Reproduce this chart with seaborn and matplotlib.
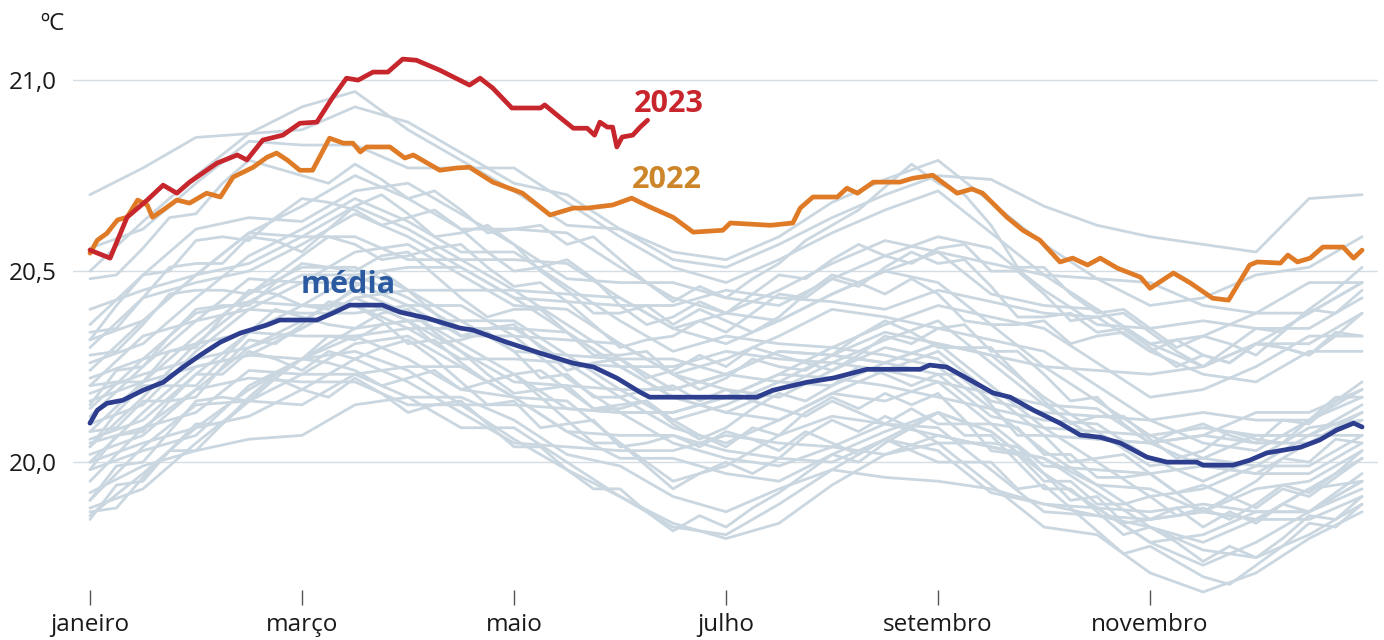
import pandas as pd
import numpy as np
import seaborn as sns
import matplotlib.pyplot as plt

# eixo x em meses (0 = 1 de janeiro, 12 = 31 de dezembro)
meses_2023 = [0.0, 0.19, 0.35, 0.54, 0.69, 0.82, 0.94, 1.20, 1.39, 1.48, 1.63, 1.82, 1.98, 2.14,
              2.29, 2.42, 2.53, 2.67, 2.81, 2.95, 3.08, 3.30, 3.58, 3.68, 3.80, 3.98, 4.25, 4.29,
              4.43, 4.56, 4.69, 4.76, 4.81, 4.88, 4.93, 4.97, 5.02, 5.12, 5.19, 5.26]
temp_2023 = [20.555, 20.534, 20.641, 20.686, 20.725, 20.704, 20.733, 20.783, 20.804, 20.791,
             20.843, 20.856, 20.887, 20.890, 20.955, 21.005, 21.000, 21.021, 21.021, 21.055,
             21.052, 21.026, 20.987, 21.005, 20.979, 20.927, 20.927, 20.935, 20.903, 20.874,
             20.874, 20.856, 20.890, 20.877, 20.877, 20.825, 20.851, 20.856, 20.877, 20.895]

meses_2022 = [0.0, 0.07, 0.16, 0.26, 0.35, 0.45, 0.54, 0.59, 0.69, 0.82, 0.94, 1.10, 1.23, 1.35,
              1.54, 1.67, 1.76, 1.86, 1.98, 2.10, 2.26, 2.39, 2.48, 2.55, 2.61, 2.83, 2.97, 3.05,
              3.30, 3.46, 3.58, 3.80, 4.08, 4.34, 4.56, 4.69, 4.93, 5.11, 5.28, 5.50, 5.69, 5.97,
              6.04, 6.42, 6.63, 6.70, 6.82, 7.05, 7.14, 7.24, 7.39, 7.64, 7.76, 7.95, 8.18, 8.32,
              8.42, 8.65, 8.80, 8.96, 9.15, 9.27, 9.41, 9.53, 9.69, 9.91, 10.00, 10.22, 10.38,
              10.59, 10.74, 10.94, 11.01, 11.23, 11.30, 11.39, 11.51, 11.63, 11.82, 11.92, 12.0]
temp_2022 = [20.547, 20.581, 20.599, 20.634, 20.641, 20.686, 20.673, 20.641, 20.660, 20.686,
             20.678, 20.704, 20.694, 20.746, 20.772, 20.798, 20.809, 20.791, 20.764, 20.764,
             20.848, 20.835, 20.835, 20.812, 20.825, 20.825, 20.796, 20.804, 20.764, 20.770,
             20.772, 20.733, 20.704, 20.647, 20.665, 20.665, 20.673, 20.691, 20.668, 20.641,
             20.602, 20.607, 20.626, 20.620, 20.626, 20.665, 20.694, 20.694, 20.717, 20.704,
             20.733, 20.733, 20.743, 20.751, 20.704, 20.715, 20.704, 20.641, 20.607, 20.581,
             20.524, 20.534, 20.516, 20.534, 20.508, 20.484, 20.455, 20.495, 20.469, 20.429,
             20.424, 20.516, 20.524, 20.521, 20.542, 20.524, 20.534, 20.563, 20.563, 20.534, 20.555]

meses_media = [0.0, 0.07, 0.16, 0.31, 0.50, 0.69, 0.88, 1.04, 1.23, 1.42, 1.67, 1.79, 2.14, 2.29,
               2.45, 2.76, 2.92, 3.18, 3.49, 3.61, 3.93, 4.25, 4.56, 4.75, 4.97, 5.19, 5.28, 6.29,
               6.44, 6.76, 7.01, 7.33, 7.83, 7.92, 8.08, 8.27, 8.52, 8.68, 8.90, 9.15, 9.34, 9.53,
               9.72, 9.97, 10.16, 10.44, 10.50, 10.78, 10.94, 11.10, 11.42, 11.60, 11.76, 11.92, 12.0]
temp_media = [20.102, 20.136, 20.154, 20.162, 20.188, 20.209, 20.249, 20.280, 20.314, 20.338,
              20.359, 20.372, 20.372, 20.390, 20.411, 20.411, 20.393, 20.377, 20.351, 20.346,
              20.314, 20.285, 20.259, 20.249, 20.220, 20.183, 20.170, 20.170, 20.188, 20.209,
              20.220, 20.243, 20.243, 20.254, 20.249, 20.220, 20.181, 20.170, 20.136, 20.102,
              20.071, 20.065, 20.050, 20.013, 20.000, 20.000, 19.992, 19.992, 20.005, 20.024,
              20.039, 20.058, 20.084, 20.102, 20.092]

# anos anteriores (linhas cinzentas), valores a cada meio mes
meses_cinza = [0, 0.5, 1, 1.5, 2, 2.5, 3, 3.5, 4, 4.5, 5, 5.5, 6, 6.5, 7, 7.5, 8, 8.5, 9, 9.5,
               10, 10.5, 11, 11.5, 12]
anos_cinza = [
    [19.86, 19.97, 20.09, 20.19, 20.27, 20.29, 20.24, 20.15, 20.06, 19.98, 19.91, 19.84, 19.80, 19.84, 19.94, 20.02, 20.05, 19.94, 19.83, 19.81, 19.71, 19.66, 19.71, 19.80, 19.87],
    [19.92, 19.99, 20.03, 20.06, 20.07, 20.15, 20.17, 20.17, 20.11, 20.02, 19.99, 19.91, 19.87, 19.93, 19.98, 19.96, 19.95, 19.93, 19.89, 19.86, 19.83, 19.77, 19.75, 19.81, 19.89],
    [19.98, 20.03, 20.07, 20.20, 20.27, 20.33, 20.27, 20.19, 20.17, 20.16, 20.05, 19.95, 19.99, 20.07, 20.12, 20.10, 20.07, 20.04, 20.01, 19.92, 19.83, 19.79, 19.85, 19.93, 19.95],
    [19.90, 20.04, 20.15, 20.16, 20.15, 20.23, 20.25, 20.25, 20.17, 20.08, 20.01, 20.01, 19.97, 19.95, 20.02, 20.08, 20.13, 20.08, 19.97, 19.88, 19.79, 19.81, 19.87, 19.87, 19.93],
    [19.95, 20.09, 20.19, 20.22, 20.21, 20.21, 20.15, 20.15, 20.15, 20.14, 20.13, 20.05, 20.01, 19.99, 20.04, 20.10, 20.09, 19.98, 19.87, 19.86, 19.85, 19.87, 19.85, 19.85, 19.91],
    [20.00, 20.05, 20.09, 20.12, 20.19, 20.27, 20.21, 20.13, 20.05, 20.04, 20.03, 20.03, 20.07, 20.05, 20.04, 20.02, 20.07, 20.04, 20.01, 19.94, 19.85, 19.87, 19.93, 19.95, 20.03],
    [20.05, 20.09, 20.13, 20.24, 20.23, 20.23, 20.17, 20.09, 20.09, 20.00, 19.91, 19.83, 19.81, 19.89, 19.98, 20.06, 20.13, 20.08, 19.97, 19.88, 19.87, 19.89, 19.87, 19.87, 19.95],
    [19.88, 19.93, 20.05, 20.16, 20.23, 20.31, 20.33, 20.25, 20.17, 20.08, 20.07, 20.07, 20.03, 20.01, 20.00, 20.06, 20.03, 19.92, 19.89, 19.88, 19.79, 19.73, 19.79, 19.87, 19.95],
    [20.10, 20.15, 20.29, 20.40, 20.39, 20.39, 20.41, 20.41, 20.33, 20.22, 20.13, 20.13, 20.17, 20.23, 20.22, 20.20, 20.17, 20.14, 20.11, 20.10, 20.01, 19.95, 20.01, 20.09, 20.11],
    [20.18, 20.23, 20.27, 20.30, 20.35, 20.43, 20.45, 20.37, 20.29, 20.28, 20.27, 20.27, 20.23, 20.21, 20.20, 20.26, 20.31, 20.28, 20.17, 20.08, 19.99, 20.01, 20.07, 20.07, 20.13],
    [20.04, 20.17, 20.31, 20.42, 20.49, 20.49, 20.43, 20.35, 20.35, 20.34, 20.25, 20.17, 20.13, 20.19, 20.26, 20.24, 20.21, 20.10, 19.99, 19.98, 19.97, 19.99, 19.97, 19.97, 20.05],
    [20.14, 20.27, 20.39, 20.42, 20.41, 20.41, 20.35, 20.27, 20.27, 20.26, 20.25, 20.25, 20.29, 20.27, 20.26, 20.32, 20.37, 20.26, 20.15, 20.06, 20.05, 20.07, 20.05, 20.05, 20.11],
    [20.00, 20.13, 20.25, 20.28, 20.27, 20.35, 20.37, 20.37, 20.37, 20.28, 20.19, 20.11, 20.15, 20.21, 20.28, 20.34, 20.31, 20.20, 20.09, 20.00, 19.91, 19.93, 19.99, 20.07, 20.07],
    [20.22, 20.27, 20.31, 20.34, 20.41, 20.49, 20.51, 20.51, 20.43, 20.34, 20.25, 20.17, 20.13, 20.11, 20.18, 20.24, 20.29, 20.18, 20.07, 20.06, 20.05, 20.07, 20.13, 20.13, 20.19],
    [20.08, 20.21, 20.25, 20.28, 20.35, 20.43, 20.37, 20.29, 20.21, 20.20, 20.19, 20.19, 20.23, 20.29, 20.28, 20.26, 20.23, 20.12, 20.09, 20.08, 20.07, 20.01, 19.99, 19.99, 20.07],
    [20.16, 20.21, 20.33, 20.44, 20.51, 20.51, 20.45, 20.45, 20.45, 20.36, 20.27, 20.19, 20.23, 20.29, 20.28, 20.26, 20.31, 20.28, 20.25, 20.16, 20.07, 20.09, 20.07, 20.07, 20.15],
    [20.06, 20.11, 20.23, 20.34, 20.33, 20.33, 20.35, 20.35, 20.35, 20.26, 20.17, 20.09, 20.05, 20.11, 20.18, 20.16, 20.21, 20.18, 20.15, 20.14, 20.05, 19.99, 19.97, 20.05, 20.13],
    [20.20, 20.33, 20.37, 20.40, 20.47, 20.47, 20.41, 20.33, 20.33, 20.32, 20.31, 20.23, 20.19, 20.17, 20.24, 20.30, 20.27, 20.16, 20.13, 20.12, 20.11, 20.13, 20.11, 20.11, 20.17],
    [20.02, 20.07, 20.19, 20.30, 20.37, 20.45, 20.39, 20.31, 20.23, 20.14, 20.13, 20.13, 20.17, 20.23, 20.30, 20.28, 20.25, 20.14, 20.03, 19.94, 19.93, 19.87, 19.85, 19.93, 20.01],
    [20.12, 20.25, 20.37, 20.48, 20.47, 20.55, 20.57, 20.49, 20.41, 20.40, 20.31, 20.23, 20.27, 20.33, 20.40, 20.38, 20.35, 20.32, 20.29, 20.20, 20.11, 20.05, 20.03, 20.11, 20.19],
    [20.30, 20.43, 20.47, 20.50, 20.57, 20.65, 20.59, 20.51, 20.43, 20.42, 20.41, 20.41, 20.45, 20.43, 20.42, 20.40, 20.45, 20.42, 20.39, 20.38, 20.29, 20.23, 20.21, 20.29, 20.29],
    [20.26, 20.31, 20.43, 20.54, 20.61, 20.69, 20.63, 20.55, 20.55, 20.46, 20.37, 20.29, 20.33, 20.31, 20.30, 20.36, 20.41, 20.38, 20.35, 20.26, 20.17, 20.19, 20.25, 20.33, 20.33],
    [20.36, 20.49, 20.61, 20.64, 20.63, 20.71, 20.73, 20.65, 20.57, 20.48, 20.47, 20.47, 20.43, 20.41, 20.48, 20.54, 20.59, 20.56, 20.45, 20.36, 20.35, 20.37, 20.35, 20.35, 20.43],
    [20.32, 20.37, 20.49, 20.60, 20.67, 20.75, 20.69, 20.61, 20.61, 20.60, 20.51, 20.43, 20.39, 20.37, 20.44, 20.50, 20.47, 20.36, 20.25, 20.24, 20.23, 20.25, 20.31, 20.39, 20.47],
    [20.40, 20.45, 20.49, 20.52, 20.59, 20.67, 20.61, 20.53, 20.45, 20.44, 20.43, 20.35, 20.31, 20.37, 20.44, 20.50, 20.55, 20.44, 20.41, 20.40, 20.31, 20.25, 20.31, 20.31, 20.39],
    [20.24, 20.37, 20.49, 20.60, 20.59, 20.59, 20.53, 20.53, 20.53, 20.52, 20.43, 20.35, 20.39, 20.45, 20.52, 20.58, 20.55, 20.52, 20.49, 20.40, 20.31, 20.33, 20.39, 20.47, 20.47],
    [20.70, 20.77, 20.85, 20.86, 20.87, 20.93, 20.89, 20.81, 20.73, 20.70, 20.61, 20.55, 20.53, 20.59, 20.68, 20.74, 20.79, 20.68, 20.57, 20.48, 20.41, 20.43, 20.49, 20.51, 20.59],
    [20.50, 20.63, 20.75, 20.86, 20.93, 20.97, 20.87, 20.79, 20.71, 20.62, 20.61, 20.53, 20.51, 20.57, 20.64, 20.70, 20.75, 20.74, 20.67, 20.62, 20.59, 20.57, 20.55, 20.69, 20.70],
    [20.56, 20.61, 20.73, 20.84, 20.83, 20.83, 20.77, 20.77, 20.77, 20.68, 20.59, 20.51, 20.47, 20.53, 20.60, 20.66, 20.71, 20.60, 20.49, 20.48, 20.47, 20.41, 20.39, 20.39, 20.47],
]

# mais anos, valores a cada quarto de mes
meses_cinza_q = [0, 0.25, 0.5, 0.75, 1, 1.25, 1.5, 1.75, 2, 2.25, 2.5, 2.75, 3, 3.25, 3.5, 3.75,
                 4, 4.25, 4.5, 4.75, 5, 5.25, 5.5, 5.75, 6, 6.25, 6.5, 6.75, 7, 7.25, 7.5, 7.75,
                 8, 8.25, 8.5, 8.75, 9, 9.25, 9.5, 9.75, 10, 10.25, 10.5, 10.75, 11, 11.25, 11.5,
                 11.75, 12]
anos_cinza_q = [
    [20.15, 20.24, 20.25, 20.33, 20.40, 20.41, 20.41, 20.47, 20.52, 20.51, 20.50, 20.54, 20.55, 20.49, 20.43, 20.38, 20.40, 20.40, 20.34, 20.28, 20.28, 20.29, 20.23, 20.19, 20.22, 20.27, 20.25, 20.24, 20.28, 20.33, 20.37, 20.34, 20.30, 20.30, 20.30, 20.23, 20.16, 20.10, 20.12, 20.12, 20.06, 20.01, 20.03, 20.08, 20.06, 20.05, 20.11, 20.17, 20.17],
    [19.90, 19.99, 20.00, 20.08, 20.16, 20.17, 20.16, 20.22, 20.27, 20.26, 20.24, 20.20, 20.22, 20.24, 20.19, 20.21, 20.23, 20.17, 20.11, 20.05, 20.05, 19.99, 19.93, 19.97, 20.00, 19.97, 20.01, 20.07, 20.11, 20.08, 20.12, 20.09, 20.05, 20.05, 20.05, 20.04, 19.97, 19.90, 19.91, 19.84, 19.85, 19.88, 19.83, 19.87, 19.84, 19.89, 19.87, 19.92, 19.97],
    [20.32, 20.41, 20.49, 20.50, 20.58, 20.59, 20.58, 20.64, 20.69, 20.68, 20.66, 20.62, 20.64, 20.66, 20.61, 20.55, 20.50, 20.51, 20.53, 20.48, 20.41, 20.36, 20.38, 20.42, 20.39, 20.44, 20.49, 20.48, 20.53, 20.57, 20.54, 20.52, 20.56, 20.57, 20.50, 20.50, 20.44, 20.37, 20.38, 20.39, 20.34, 20.29, 20.25, 20.30, 20.35, 20.34, 20.40, 20.39, 20.45],
    [20.08, 20.09, 20.16, 20.16, 20.17, 20.25, 20.32, 20.31, 20.36, 20.42, 20.41, 20.37, 20.31, 20.32, 20.26, 20.21, 20.23, 20.24, 20.19, 20.14, 20.15, 20.16, 20.10, 20.06, 20.09, 20.14, 20.18, 20.16, 20.20, 20.25, 20.23, 20.20, 20.23, 20.23, 20.15, 20.07, 20.07, 20.00, 20.01, 20.02, 19.97, 19.92, 19.94, 19.91, 19.95, 20.01, 20.00, 20.06, 20.05],
    [19.85, 19.94, 19.95, 20.03, 20.10, 20.10, 20.16, 20.22, 20.19, 20.17, 20.22, 20.18, 20.13, 20.15, 20.16, 20.10, 20.04, 20.04, 19.98, 19.93, 19.93, 19.87, 19.82, 19.86, 19.83, 19.88, 19.92, 19.97, 20.02, 20.00, 20.05, 20.09, 20.13, 20.07, 20.07, 20.00, 19.93, 19.93, 19.87, 19.81, 19.83, 19.79, 19.74, 19.78, 19.75, 19.80, 19.86, 19.85, 19.91],
    [20.28, 20.29, 20.36, 20.44, 20.45, 20.45, 20.44, 20.49, 20.54, 20.59, 20.57, 20.53, 20.54, 20.56, 20.57, 20.51, 20.46, 20.47, 20.42, 20.36, 20.30, 20.32, 20.33, 20.37, 20.34, 20.39, 20.44, 20.43, 20.48, 20.46, 20.51, 20.55, 20.52, 20.53, 20.46, 20.38, 20.38, 20.39, 20.34, 20.35, 20.30, 20.25, 20.28, 20.26, 20.31, 20.30, 20.28, 20.33, 20.39],
    [20.04, 20.13, 20.20, 20.20, 20.20, 20.27, 20.34, 20.40, 20.38, 20.36, 20.35, 20.39, 20.40, 20.34, 20.29, 20.23, 20.18, 20.19, 20.20, 20.14, 20.14, 20.16, 20.11, 20.07, 20.04, 20.09, 20.07, 20.13, 20.17, 20.14, 20.18, 20.15, 20.18, 20.11, 20.03, 20.02, 19.95, 19.95, 19.89, 19.89, 19.91, 19.86, 19.88, 19.85, 19.89, 19.94, 19.92, 19.97, 20.03],
    [20.48, 20.49, 20.56, 20.64, 20.65, 20.73, 20.79, 20.77, 20.75, 20.73, 20.78, 20.74, 20.69, 20.71, 20.66, 20.60, 20.61, 20.62, 20.57, 20.59, 20.53, 20.47, 20.42, 20.46, 20.43, 20.48, 20.52, 20.58, 20.62, 20.66, 20.72, 20.78, 20.73, 20.70, 20.62, 20.51, 20.51, 20.44, 20.39, 20.40, 20.35, 20.30, 20.33, 20.31, 20.28, 20.34, 20.40, 20.45, 20.51],
    [19.87, 19.88, 19.96, 20.03, 20.03, 20.10, 20.17, 20.23, 20.27, 20.33, 20.32, 20.36, 20.37, 20.31, 20.32, 20.34, 20.29, 20.22, 20.23, 20.17, 20.17, 20.19, 20.20, 20.16, 20.19, 20.16, 20.14, 20.12, 20.16, 20.13, 20.10, 20.14, 20.10, 20.10, 20.10, 20.09, 20.02, 20.02, 19.96, 19.96, 19.97, 19.92, 19.87, 19.91, 19.88, 19.93, 19.91, 19.96, 20.01],
    [20.20, 20.21, 20.21, 20.29, 20.30, 20.38, 20.45, 20.44, 20.41, 20.40, 20.46, 20.50, 20.45, 20.39, 20.33, 20.35, 20.36, 20.30, 20.24, 20.26, 20.27, 20.22, 20.24, 20.28, 20.25, 20.30, 20.28, 20.26, 20.24, 20.28, 20.33, 20.31, 20.35, 20.36, 20.29, 20.29, 20.23, 20.16, 20.17, 20.10, 20.05, 20.08, 20.10, 20.07, 20.05, 20.11, 20.10, 20.16, 20.21],
    [19.98, 20.07, 20.08, 20.16, 20.23, 20.23, 20.29, 20.27, 20.24, 20.29, 20.27, 20.30, 20.32, 20.27, 20.21, 20.15, 20.16, 20.09, 20.10, 20.11, 20.04, 20.05, 20.07, 20.04, 20.08, 20.06, 20.03, 20.08, 20.05, 20.02, 20.06, 20.03, 20.00, 20.00, 20.00, 19.93, 19.94, 19.88, 19.82, 19.76, 19.78, 19.74, 19.70, 19.68, 19.73, 19.78, 19.84, 19.83, 19.89],
    [20.34, 20.35, 20.43, 20.51, 20.52, 20.52, 20.59, 20.58, 20.55, 20.61, 20.67, 20.70, 20.65, 20.59, 20.60, 20.62, 20.57, 20.50, 20.45, 20.39, 20.39, 20.41, 20.36, 20.40, 20.37, 20.34, 20.38, 20.44, 20.49, 20.47, 20.44, 20.48, 20.44, 20.37, 20.36, 20.36, 20.37, 20.31, 20.33, 20.34, 20.29, 20.32, 20.28, 20.26, 20.31, 20.30, 20.28, 20.34, 20.33],
]

pos_meses = [0, 2, 4, 6, 8, 10]
nomes_meses = ["janeiro", "março", "maio", "julho", "setembro", "novembro"]
pos_temp = [20.0, 20.5, 21.0]
nomes_temp = ["20,0", "20,5", "21,0"]

linhas = []
for i, serie in enumerate(anos_cinza):
    for m, t in zip(meses_cinza, serie):
        linhas.append((i, m, t))
for j, serie in enumerate(anos_cinza_q):
    for m, t in zip(meses_cinza_q, serie):
        linhas.append((100 + j, m, t))
cinza = pd.DataFrame(linhas, columns=["ano", "mes", "temp"])

sns.set_style("white")
plt.rcParams['font.family'] = ['Open Sans', 'DejaVu Sans']

fig = plt.figure(figsize=(13.84, 6.4), dpi=100)
ax = fig.add_axes([73 / 1384, 1 - 605 / 640, (1378 - 73) / 1384, (605 - 40) / 640])

sns.lineplot(data=cinza, x="mes", y="temp", units="ano", estimator=None,
             color="#cad7e0", linewidth=2.0, ax=ax)
sns.lineplot(x=meses_media, y=temp_media, color="#2e3e8f", linewidth=3.4, ax=ax)
sns.lineplot(x=meses_2022, y=temp_2022, color="#df7b27", linewidth=3.4, ax=ax)
sns.lineplot(x=meses_2023, y=temp_2023, color="#c6262c", linewidth=3.4, ax=ax)

ax.set_xlim(-0.16, 12.15)
ax.set_ylim(19.626, 21.105)
ax.set_xticks(pos_meses)
ax.set_xticklabels(nomes_meses, fontsize=17.5, color="#1a1a1a")
ax.set_yticks(pos_temp)
ax.set_yticklabels(nomes_temp, fontsize=17.5, color="#1a1a1a")
ax.tick_params(axis="x", bottom=True, direction="in", length=11, width=1, color="#555555", pad=6)
ax.tick_params(axis="y", left=False, length=0, pad=12)
ax.yaxis.grid(True, color="#d5dde2", linewidth=1)
ax.set_axisbelow(True)
for s in ax.spines.values():
    s.set_visible(False)
ax.set_xlabel("")
ax.set_ylabel("")

ax.text(5.46, 20.937, "2023", color="#c8252d", fontsize=22, fontweight="bold", ha="center", va="center")
ax.text(5.44, 20.738, "2022", color="#cd852a", fontsize=22, fontweight="bold", ha="center", va="center")
ax.text(2.44, 20.463, "média", color="#2c5aa0", fontsize=22, fontweight="bold", ha="center", va="center")
fig.text(40 / 1384, 1 - 24 / 640, "ºC", fontsize=17.5, color="#1a1a1a", va="center")

fig.savefig("out.png", dpi=100)
